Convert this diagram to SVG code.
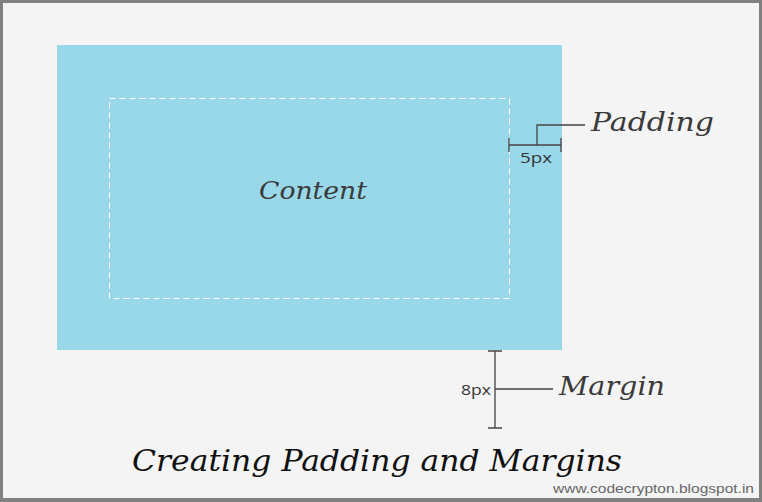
<svg xmlns="http://www.w3.org/2000/svg" width="762" height="502" viewBox="0 0 762 502">
<style>
.script{font-family:"DejaVu Serif","Liberation Serif",serif;font-style:italic;fill:#3a3a3a}
.dim{stroke:#444;stroke-width:1.3;fill:none}
.lbl{font-family:"Open Sans","DejaVu Sans",sans-serif;font-size:15px;fill:#333}
</style>
<rect x="0" y="0" width="762" height="502" fill="#808080"/>
<rect x="3" y="3" width="756" height="495" fill="#f4f4f4"/>
<g id="padding-box">
<rect x="57" y="45" width="505" height="305" fill="#99d8e9"/>
</g>
<g id="content">
<rect x="109.5" y="98.5" width="400" height="200" fill="none" stroke="#ffffff" stroke-width="1" stroke-dasharray="6,4"/>
<text class="script" x="313" y="199" font-size="24" text-anchor="middle" textLength="108" lengthAdjust="spacingAndGlyphs">Content</text>
</g>
<g id="connectors">
<path class="dim" d="M509,145 H561 M509,138 V152 M561,138 V152 M537,145 V125 H585"/>
<path class="dim" d="M495,351 V428 M488,351 H502 M488,428 H502 M495,389 H553"/>
</g>
<g id="padding-label">
<text class="script" x="591" y="131" font-size="26" textLength="123" lengthAdjust="spacingAndGlyphs">Padding</text>
<text class="lbl" x="536" y="163" text-anchor="middle" textLength="32" lengthAdjust="spacingAndGlyphs">5px</text>
</g>
<g id="margin-label">
<text class="script" x="559" y="395" font-size="26" textLength="106" lengthAdjust="spacingAndGlyphs">Margin</text>
<text class="lbl" x="476" y="395" text-anchor="middle" textLength="30" lengthAdjust="spacingAndGlyphs">8px</text>
</g>
<g id="title">
<text class="script" x="132" y="471" font-size="30" style="fill:#111" textLength="490" lengthAdjust="spacingAndGlyphs">Creating Padding and Margins</text>
<text x="754" y="493" font-family="'Liberation Sans',sans-serif" font-size="12.5" fill="#666" text-anchor="end" textLength="201" lengthAdjust="spacingAndGlyphs">www.codecrypton.blogspot.in</text>
</g>
</svg>
